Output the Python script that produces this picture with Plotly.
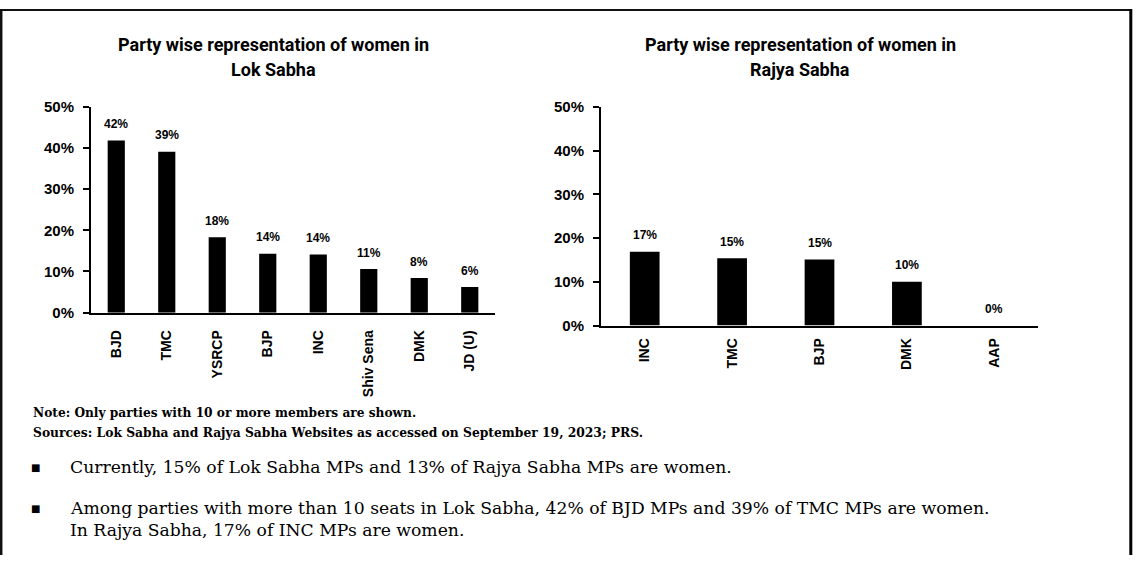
import plotly.graph_objects as go

W, H = 1141, 563

# ---- data ----
lok_parties = ["BJD", "TMC", "YSRCP", "BJP", "INC", "Shiv Sena", "DMK", "JD (U)"]
lok_share = [41.8, 39.1, 18.3, 14.3, 14.1, 10.6, 8.4, 6.2]

rajya_parties = ["INC", "TMC", "BJP", "DMK", "AAP"]
rajya_share = [16.9, 15.4, 15.1, 10.0, 0.0]

y_ticks = [0, 10, 20, 30, 40, 50]
y_tick_labels = ["0%", "10%", "20%", "30%", "40%", "50%"]

title_lok = ["Party wise representation of women in", "Lok Sabha"]
title_rajya = ["Party wise representation of women in", "Rajya Sabha"]
note_text = "Note: Only parties with 10 or more members are shown."
source_text = "Sources: Lok Sabha and Rajya Sabha Websites as accessed on September 19, 2023; PRS."
bullet_lines = [
    ["Currently, 15% of Lok Sabha MPs and 13% of Rajya Sabha MPs are women."],
    ["Among parties with more than 10 seats in Lok Sabha, 42% of BJD MPs and 39% of TMC MPs are women.",
     "In Rajya Sabha, 17% of INC MPs are women."],
]

# the photographed page appears vertically scaled (~0.971) and offset (~9px);
# vertical layout positions below are given in screen pixels and mapped back.
VS, VO = 0.971, 9.0


def px(x):
    return x / W


def py(y):
    return 1 - ((y - VO) / VS) / H


CHART_FONT = "Liberation Sans, Arial, sans-serif"
SERIF = "DejaVu Serif, Liberation Serif, serif"

fig = go.Figure()
fig.add_trace(go.Bar(x=lok_parties, y=lok_share, marker_color="#000000",
                     marker_line_width=0, xaxis="x", yaxis="y", hoverinfo="skip"))
fig.add_trace(go.Bar(x=rajya_parties, y=rajya_share, marker_color="#000000",
                     marker_line_width=0, xaxis="x2", yaxis="y2", hoverinfo="skip"))

axis_common_y = dict(
    range=[0, 50], tickvals=y_ticks, ticktext=y_tick_labels,
    showgrid=False, zeroline=False, showline=True, linecolor="#000", linewidth=2,
    ticks="outside", ticklen=6, tickwidth=2, tickcolor="#000",
    tickfont=dict(family=CHART_FONT, size=15, color="#000", weight="bold"),
    ticklabelstandoff=6, fixedrange=True,
)
axis_common_x = dict(
    showgrid=False, zeroline=False, showline=True, linecolor="#000", linewidth=2,
    ticks="", tickangle=-90,
    tickfont=dict(family=CHART_FONT, size=14, color="#000", weight="bold"),
    fixedrange=True,
)

fig.update_layout(
    width=W, height=H,
    margin=dict(l=0, r=0, t=0, b=0),
    paper_bgcolor="white", plot_bgcolor="white",
    showlegend=False, bargap=0.66,
    xaxis=dict(domain=[px(91), px(495)], anchor="y", ticklabelstandoff=10, **axis_common_x),
    yaxis=dict(domain=[py(313), py(107)], anchor="x", **axis_common_y),
    xaxis2=dict(domain=[px(601), px(1038)], anchor="y2", ticklabelstandoff=5, **axis_common_x),
    yaxis2=dict(domain=[py(326), py(107)], anchor="x2", **axis_common_y),
)

annotations = []
# bar value labels
for xs, ys, xr, yr in [(lok_parties, lok_share, "x", "y"), (rajya_parties, rajya_share, "x2", "y2")]:
    for cat, val in zip(xs, ys):
        annotations.append(dict(
            x=cat, y=val, xref=xr, yref=yr, text=f"{val:.0f}%", showarrow=False,
            yanchor="middle", yshift=16.5,
            font=dict(family=CHART_FONT, size=12, color="#000", weight="bold"),
        ))

# titles
for cx, lines in [(273, title_lok), (800, title_rajya)]:
    for i, line in enumerate(lines):
        annotations.append(dict(
            x=px(cx), y=py(45 + 25 * i), xref="paper", yref="paper", text=line,
            showarrow=False, xanchor="center", yanchor="middle",
            font=dict(family="Roboto, Arial, sans-serif", size=18, color="#000", weight="bold"),
        ))

# notes
annotations.append(dict(x=px(31), y=py(413), xref="paper", yref="paper", text=note_text,
                        showarrow=False, xanchor="left", yanchor="middle",
                        font=dict(family=SERIF, size=12.2, color="#000", weight="bold")))
annotations.append(dict(x=px(31), y=py(433), xref="paper", yref="paper", text=source_text,
                        showarrow=False, xanchor="left", yanchor="middle",
                        font=dict(family=SERIF, size=12.3, color="#000", weight="bold")))

# bullets
bullet_y = [[468], [509, 531]]
for lines, ys in zip(bullet_lines, bullet_y):
    annotations.append(dict(x=px(35), y=py(ys[0]), xref="paper", yref="paper", text="■",
                            showarrow=False, xanchor="center", yanchor="middle",
                            font=dict(family="DejaVu Sans", size=10, color="#000")))
    for line, yy in zip(lines, ys):
        annotations.append(dict(x=px(68), y=py(yy), xref="paper", yref="paper", text=line,
                                showarrow=False, xanchor="left", yanchor="middle",
                                font=dict(family=SERIF, size=17.2, color="#000")))

fig.update_layout(annotations=annotations)

# page frame
shapes = [
    dict(type="line", xref="paper", yref="paper", x0=px(0), x1=px(1131), y0=1 - 1 / H, y1=1 - 1 / H,
         line=dict(color="#111", width=2)),
    dict(type="line", xref="paper", yref="paper", x0=px(1.2), x1=px(1.2), y0=1, y1=0,
         line=dict(color="#111", width=2.5)),
    dict(type="line", xref="paper", yref="paper", x0=px(1130.8), x1=px(1130.8), y0=1, y1=0,
         line=dict(color="#000", width=3)),
]
fig.update_layout(shapes=shapes)

fig.write_html(
    "out.html",
    config={"displayModeBar": False},
    post_script="document.body.style.margin='0';document.body.style.padding='0';"
                "document.documentElement.style.overflow='hidden';",
)
